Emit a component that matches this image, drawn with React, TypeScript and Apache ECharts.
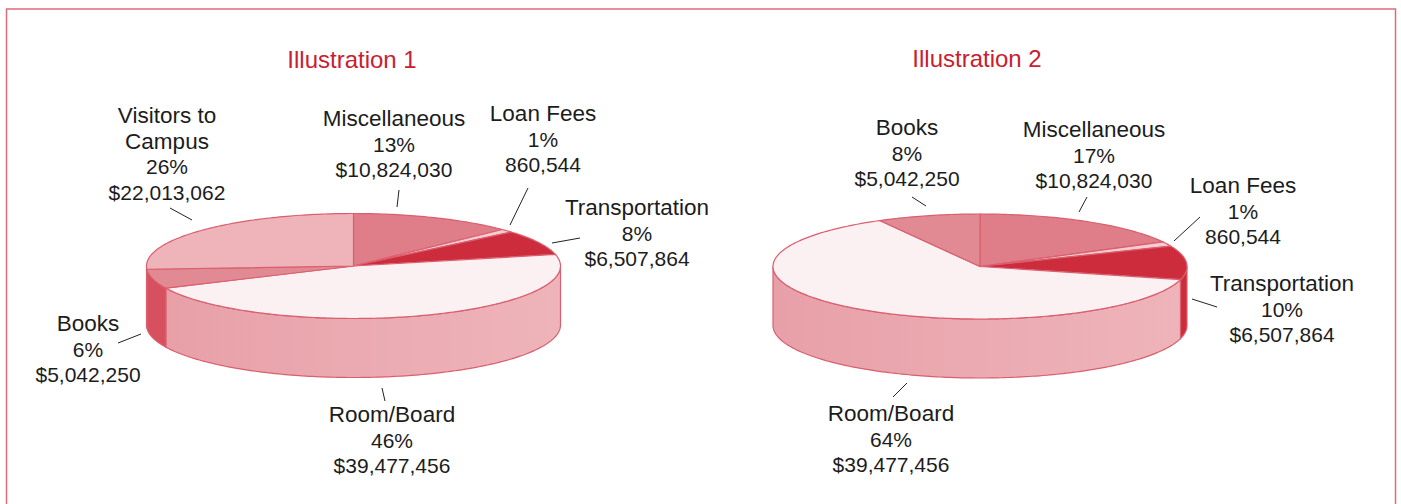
import React, { useEffect, useRef } from "react";
import * as echarts from "echarts";

// ---- data
const categories1 = ["Miscellaneous", "Loan Fees", "Transportation", "Room/Board", "Books", "Visitors to\nCampus"];
const amounts1 = [10824030, 860544, 6507864, 39477456, 5042250, 22013062];
const percents1 = ["13%", "1%", "8%", "46%", "6%", "26%"];
const amountLabels1 = ["$10,824,030", "860,544", "$6,507,864", "$39,477,456", "$5,042,250", "$22,013,062"];

const categories2 = ["Miscellaneous", "Loan Fees", "Transportation", "Room/Board", "Books"];
const amounts2 = [10824030, 860544, 6507864, 39477456, 5042250];
const percents2 = ["17%", "1%", "10%", "64%", "8%"];
const amountLabels2 = ["$10,824,030", "860,544", "$6,507,864", "$39,477,456", "$5,042,250"];

// ---- styles / layout
const TOP_COLORS: Record<string, string> = {
  Miscellaneous: "#df7e89",
  "Loan Fees": "#f5cdd1",
  Transportation: "#cd2c3c",
  "Room/Board": "#fbf0f2",
  Books: "#e28a94",
  "Visitors to\nCampus": "#efb3ba",
};
const SIDE_COLORS: Record<string, [string, string]> = {
  Miscellaneous: ["#df7e89", "#df7e89"],
  "Loan Fees": ["#f5cdd1", "#f5cdd1"],
  Transportation: ["#cd2c3c", "#cd2c3c"],
  "Room/Board": ["#e8a0a8", "#eeb4ba"],
  Books: ["#d65060", "#d65060"],
  "Visitors to\nCampus": ["#efb3ba", "#efb3ba"],
};
const STROKE = "#da5f6e";
const FONT = "'Liberation Sans'";
const RX = 207;
const RY = 52.5;
const DEPTH = 59;

const pie1 = { cx: 353.5, cy: 266 };
const pie2 = { cx: 980, cy: 266.5 };

// centre x and first-line y of each label, same order as categories
const labelPos1 = [[394, 118.5], [543, 113.5], [637, 207.5], [392, 414.5], [88, 323.5], [167, 115.5]];
const labelPos2 = [[1094, 129.5], [1243, 185.5], [1282, 283.5], [891, 413.5], [907, 127.5]];
const leaders = [
  [170, 208, 192, 220], [399, 190, 397, 207], [528, 188, 510, 225], [552, 243, 580, 238],
  [118, 343, 141, 334], [382, 388, 385, 401],
  [912, 197, 926, 206], [1087, 197, 1079, 212], [1200, 217, 1174, 241], [1192, 299, 1217, 307],
  [907, 383, 893, 397],
];
const LINE_H = 25.6;

function slices(names: string[], vals: number[]) {
  const total = vals.reduce((a, b) => a + b, 0);
  let acc = 0;
  return vals.map((v, i) => {
    const start = acc / total;
    acc += v;
    return { name: names[i], value: [start, acc / total, v] };
  });
}

function pt(c: { cx: number; cy: number }, deg: number, dy = 0): number[] {
  const r = (deg * Math.PI) / 180;
  return [c.cx + RX * Math.sin(r), c.cy - RY * Math.cos(r) + dy];
}

function arc(c: { cx: number; cy: number }, a: number, b: number, dy = 0): number[][] {
  const out: number[][] = [];
  const n = Math.max(1, Math.ceil(b - a));
  for (let i = 0; i <= n; i++) out.push(pt(c, a + ((b - a) * i) / n, dy));
  return out;
}

function pieSeries(names: string[], vals: number[], c: { cx: number; cy: number }) {
  return {
    type: "custom",
    coordinateSystem: "none",
    silent: true,
    data: slices(names, vals),
    renderItem: (params: any, api: any) => {
      const a = api.value(0) * 360;
      const b = api.value(1) * 360;
      const name = names[params.dataIndex];
      const children: any[] = [];
      const sa = Math.max(a, 90);
      const sb = Math.min(b, 270);
      if (sb > sa) {
        const [c0, c1] = SIDE_COLORS[name];
        children.push({
          type: "polygon",
          shape: { points: [...arc(c, sa, sb), ...arc(c, sa, sb, DEPTH).reverse()] },
          style: {
            fill: {
              type: "linear", x: 0, y: 0, x2: 1, y2: 0,
              colorStops: [{ offset: 0, color: c0 }, { offset: 1, color: c1 }],
            },
            stroke: STROKE,
            lineWidth: 1.2,
          },
        });
      }
      children.push({
        type: "polygon",
        shape: { points: [[c.cx, c.cy], ...arc(c, a, b)] },
        style: { fill: TOP_COLORS[name], stroke: STROKE, lineWidth: 1.2 },
      });
      return { type: "group", children };
    },
  };
}

function lineText(text: string, x: number, y: number, size: number) {
  return {
    type: "text",
    x,
    y,
    style: { text, fontSize: size, fontFamily: FONT, fill: "#1c1c1c", align: "center", verticalAlign: "middle" },
  };
}

function labelTexts(names: string[], pcts: string[], amts: string[], pos: number[][]) {
  return names.flatMap((n, i) => {
    const head = n.split("\n");
    return [
      ...head.map((t, k) => lineText(t, pos[i][0], pos[i][1] + k * LINE_H, 22.5)),
      lineText(pcts[i], pos[i][0], pos[i][1] + head.length * LINE_H, 21),
      lineText(amts[i], pos[i][0], pos[i][1] + (head.length + 1) * LINE_H, 21),
    ];
  });
}

export default function App() {
  const ref = useRef<HTMLDivElement>(null);
  useEffect(() => {
    const chart = echarts.init(ref.current!, null, { renderer: "svg" });
    chart.setOption({
      animation: false,
      backgroundColor: "#ffffff",
      series: [pieSeries(categories1, amounts1, pie1), pieSeries(categories2, amounts2, pie2)],
      graphic: [
        {
          type: "rect",
          shape: { x: 6.5, y: 9, width: 1389, height: 510 },
          style: { fill: "none", stroke: "#dc6c7a", lineWidth: 1.5 },
        },
        ...[["Illustration 1", 352, 59], ["Illustration 2", 977, 58]].map(([t, x, y]) => ({
          type: "text",
          x,
          y,
          style: {
            text: t,
            fontSize: 24,
            fontFamily: FONT,
            fill: "#c9202f",
            align: "center",
            verticalAlign: "middle",
          },
        })),
        ...labelTexts(categories1, percents1, amountLabels1, labelPos1),
        ...labelTexts(categories2, percents2, amountLabels2, labelPos2),
        ...leaders.map(([x1, y1, x2, y2]) => ({
          type: "line",
          shape: { x1, y1, x2, y2 },
          style: { stroke: "#222222", lineWidth: 1 },
        })),
      ],
    });
    return () => chart.dispose();
  }, []);
  return <div ref={ref} style={{ position: "absolute", left: 0, top: 0, width: 1401, height: 504, overflow: "hidden" }} />;
}
